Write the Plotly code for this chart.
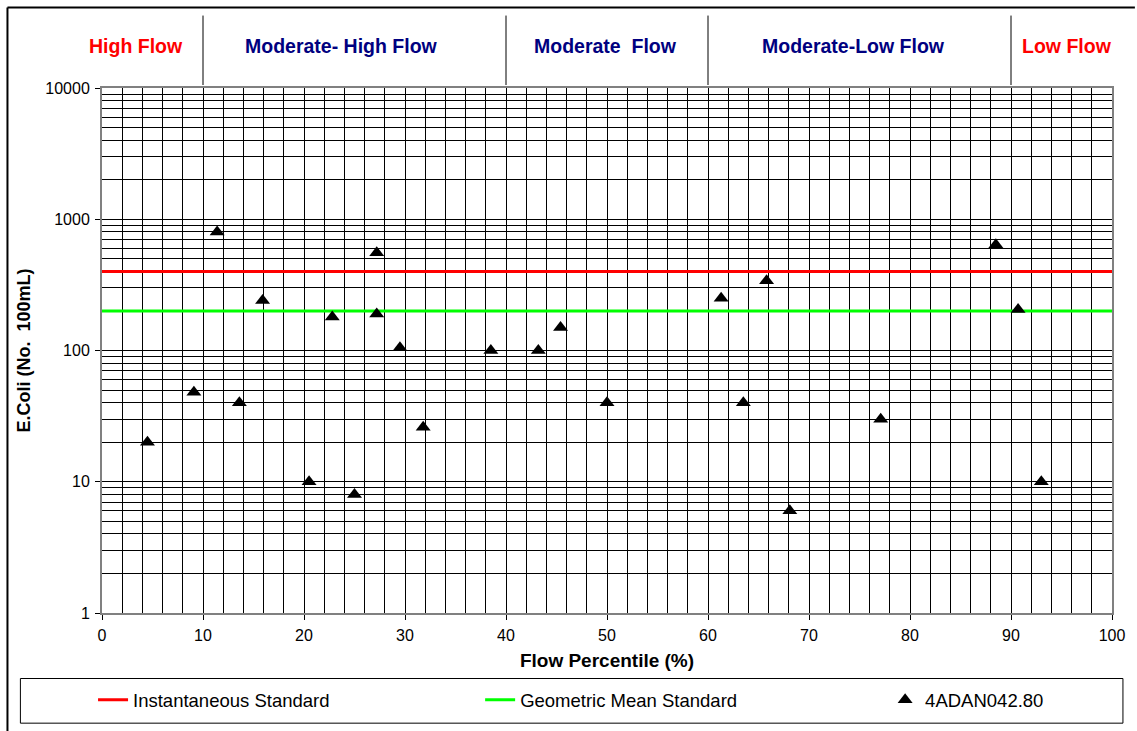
import plotly.graph_objects as go

# ---- data ----
flow_pct = [4.5, 9.1, 11.4, 13.6, 15.9, 20.5, 22.8, 25.0, 27.2, 27.2, 29.5, 31.8,
            38.5, 43.2, 45.4, 50.0, 61.3, 63.5, 65.8, 68.1, 77.1, 88.5, 90.7, 93.0]
ecoli = [20, 48, 800, 40, 240, 10, 180, 8, 555, 190, 105, 26,
         100, 100, 150, 40, 250, 40, 340, 6, 30, 640, 205, 10]
instantaneous_std = 400
geomean_std = 200
station = "4ADAN042.80"
zone_bounds = [10, 40, 60, 90]
zone_labels = ["High Flow", "Moderate- High Flow", "Moderate&nbsp; Flow", "Moderate-Low Flow", "Low Flow"]
zone_colors = ["#FF0000", "#000080", "#000080", "#000080", "#FF0000"]
x_ticks = [0, 10, 20, 30, 40, 50, 60, 70, 80, 90, 100]
y_ticks = [1, 10, 100, 1000, 10000]
y_ticktext = ["1", "10", "100", "1000", "10000"]

FONT = "Liberation Sans, Arial, sans-serif"
W, H = 1137, 731
L, R, T, B = 102, 1117, 88, 617
pw, ph = R - L, B - T


def px_x(p):
    return (p - L) / pw


def px_y(p):
    return (B - p) / ph


fig = go.Figure()
fig.add_trace(go.Scatter(x=[0, 100], y=[instantaneous_std] * 2, mode="lines",
                         line=dict(color="#FF0000", width=3), name="Instantaneous Standard",
                         legend="legend", showlegend=True))
fig.add_trace(go.Scatter(x=[0, 100], y=[geomean_std] * 2, mode="lines",
                         line=dict(color="#00FF00", width=3), name="Geometric Mean Standard",
                         legend="legend2", showlegend=True))
fig.add_trace(go.Scatter(x=flow_pct, y=ecoli, mode="markers",
                         marker=dict(symbol="triangle-up", size=13, color="black"),
                         name=station, legend="legend3", showlegend=True))

shapes = []
for b in zone_bounds:
    shapes.append(dict(type="line", xref="x", yref="paper", x0=b, x1=b,
                       y0=px_y(85), y1=px_y(15), line=dict(color="black", width=1)))
shapes.append(dict(type="line", xref="paper", yref="paper", x0=px_x(7), x1=px_x(1140),
                   y0=px_y(7), y1=px_y(7), line=dict(color="black", width=2)))
shapes.append(dict(type="line", xref="paper", yref="paper", x0=px_x(7), x1=px_x(7),
                   y0=px_y(7), y1=px_y(740), line=dict(color="black", width=2)))
shapes.append(dict(type="rect", xref="paper", yref="paper", x0=px_x(20), x1=px_x(1128),
                   y0=px_y(728), y1=px_y(683), line=dict(color="black", width=1)))

annotations = []
label_centers_px = [136, 343, 608, 857, 1072]
for lab, col, cx in zip(zone_labels, zone_colors, label_centers_px):
    annotations.append(dict(text="<b>%s</b>" % lab, xref="paper", yref="paper",
                            x=px_x(cx), y=px_y(46), showarrow=False,
                            font=dict(family=FONT, size=19.5, color=col),
                            xanchor="center", yanchor="middle"))

legend_common = dict(orientation="h", bgcolor="rgba(0,0,0,0)", borderwidth=0,
                     font=dict(family=FONT, size=18.5, color="black"),
                     yanchor="middle", xanchor="left", y=px_y(705))

fig.update_layout(
    width=W, height=H,
    margin=dict(l=L, r=W - R, t=T, b=H - B),
    paper_bgcolor="white", plot_bgcolor="white",
    font=dict(family=FONT, size=15, color="black"),
    showlegend=True,
    shapes=shapes, annotations=annotations,
    legend=dict(x=px_x(93), **legend_common),
    legend2=dict(x=px_x(482), **legend_common),
    legend3=dict(x=px_x(889), **legend_common),
    xaxis=dict(range=[0, 100], tickvals=x_ticks, ticks="outside", ticklen=5,
               tickcolor="black", showgrid=True, gridcolor="black", gridwidth=1,
               minor=dict(dtick=2, showgrid=True, gridcolor="black", gridwidth=1),
               showline=True, linecolor="#808080", linewidth=2, mirror=True,
               zeroline=False, tickfont=dict(family=FONT, size=16),
               ticklabelstandoff=2,
               title=dict(text="<b>Flow Percentile (%)</b>", standoff=10,
                          font=dict(family=FONT, size=19))),
    yaxis=dict(type="log", range=[0, 4], tickvals=y_ticks, ticktext=y_ticktext,
               ticks="outside", ticklen=5, ticklabelstandoff=2,
               tickcolor="black", showgrid=True, gridcolor="black", gridwidth=1,
               minor=dict(dtick="D1", showgrid=True, gridcolor="black", gridwidth=1),
               showline=True, linecolor="#808080", linewidth=2, mirror=True,
               zeroline=False, tickfont=dict(family=FONT, size=16),
               title=dict(text="<b>E.Coli (No.&nbsp; 100mL)</b>", standoff=10,
                          font=dict(family=FONT, size=18))),
)

fig.write_html("out.html", config={"displayModeBar": False},
               post_script="document.body.style.margin='0';document.body.style.overflow='hidden';")
